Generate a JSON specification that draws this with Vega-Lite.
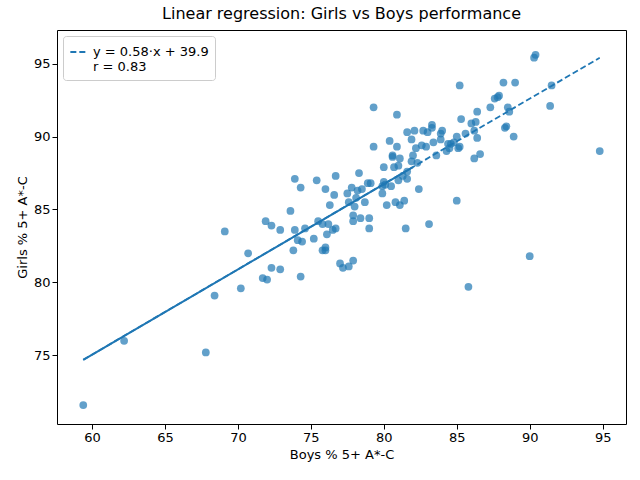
{
  "$schema": "https://vega.github.io/schema/vega-lite/v6.json",
  "width": 569,
  "height": 394,
  "autosize": {"type": "none"},
  "padding": {"left": 57, "top": 30, "right": 14, "bottom": 56},
  "title": {"text": "Linear regression: Girls vs Boys performance", "font": "DejaVu Sans", "fontSize": 16, "fontWeight": "normal", "offset": 8},
  "config": {
    "view": {"stroke": "black", "strokeWidth": 1},
    "axis": {"grid": false, "domain": false, "labelFont": "DejaVu Sans", "titleFont": "DejaVu Sans", "labelFontSize": 13, "titleFontSize": 13, "titleFontWeight": "normal", "tickColor": "black", "labelColor": "black", "titleColor": "black", "tickSize": 5}
  },
  "layer": [
    {
      "data": {"values": [
        {"b":59.4,"g":71.6},{"b":62.2,"g":76.0},{"b":67.8,"g":75.2},{"b":68.4,"g":79.1},{"b":69.1,"g":83.5},{"b":70.2,"g":79.6},{"b":70.7,"g":82.0},{"b":71.7,"g":80.3},{"b":71.9,"g":84.2},{"b":72.0,"g":80.2},{"b":72.3,"g":83.9},{"b":72.3,"g":81.0},{"b":72.9,"g":83.6},{"b":72.9,"g":80.9},{"b":73.6,"g":84.9},{"b":73.8,"g":82.2},{"b":73.9,"g":83.6},{"b":73.9,"g":87.1},{"b":74.1,"g":82.9},{"b":74.3,"g":86.5},{"b":74.3,"g":80.4},{"b":74.4,"g":82.8},{"b":74.6,"g":83.7},{"b":75.2,"g":83.0},{"b":75.4,"g":87.0},{"b":75.5,"g":84.2},{"b":75.8,"g":84.0},{"b":75.8,"g":82.2},{"b":76.0,"g":82.4},{"b":76.0,"g":82.2},{"b":76.0,"g":86.4},{"b":76.1,"g":83.3},{"b":76.2,"g":84.0},{"b":76.3,"g":85.3},{"b":76.5,"g":83.6},{"b":76.6,"g":86.0},{"b":76.7,"g":83.7},{"b":76.7,"g":87.3},{"b":77.0,"g":81.3},{"b":77.2,"g":81.0},{"b":77.5,"g":86.1},{"b":77.6,"g":81.1},{"b":77.6,"g":85.5},{"b":77.9,"g":81.5},{"b":77.8,"g":86.5},{"b":77.9,"g":84.6},{"b":77.9,"g":84.2},{"b":78.0,"g":85.2},{"b":78.1,"g":85.8},{"b":78.2,"g":86.3},{"b":78.3,"g":87.5},{"b":78.4,"g":84.4},{"b":78.5,"g":86.4},{"b":78.7,"g":85.5},{"b":78.9,"g":86.8},{"b":79.0,"g":84.4},{"b":79.0,"g":83.7},{"b":79.1,"g":86.8},{"b":79.3,"g":92.0},{"b":79.3,"g":89.3},{"b":79.9,"g":86.6},{"b":79.9,"g":86.1},{"b":80.0,"g":86.9},{"b":80.0,"g":87.9},{"b":80.1,"g":86.7},{"b":80.2,"g":85.3},{"b":80.4,"g":89.7},{"b":80.5,"g":86.6},{"b":80.6,"g":88.7},{"b":80.7,"g":87.9},{"b":80.8,"g":85.5},{"b":80.9,"g":89.3},{"b":80.9,"g":91.5},{"b":81.0,"g":88.0},{"b":81.0,"g":87.0},{"b":81.1,"g":85.3},{"b":81.1,"g":88.5},{"b":81.3,"g":87.3},{"b":81.4,"g":85.6},{"b":81.5,"g":83.7},{"b":81.6,"g":90.3},{"b":81.6,"g":87.6},{"b":81.6,"g":87.1},{"b":81.9,"g":88.3},{"b":81.9,"g":89.8},{"b":82.0,"g":88.7},{"b":82.1,"g":90.4},{"b":82.2,"g":89.2},{"b":82.3,"g":88.2},{"b":82.4,"g":86.4},{"b":82.6,"g":89.4},{"b":82.7,"g":90.4},{"b":83.0,"g":90.3},{"b":83.1,"g":84.0},{"b":83.3,"g":90.6},{"b":83.3,"g":90.8},{"b":83.4,"g":89.6},{"b":83.6,"g":88.7},{"b":83.9,"g":89.8},{"b":83.9,"g":90.2},{"b":84.0,"g":90.4},{"b":84.3,"g":89.0},{"b":84.4,"g":89.5},{"b":84.6,"g":89.5},{"b":84.8,"g":89.6},{"b":85.0,"g":90.0},{"b":85.0,"g":85.6},{"b":85.1,"g":89.2},{"b":85.2,"g":89.3},{"b":85.2,"g":93.5},{"b":85.3,"g":91.2},{"b":85.6,"g":90.2},{"b":85.8,"g":79.7},{"b":86.0,"g":90.9},{"b":86.2,"g":90.4},{"b":86.2,"g":88.5},{"b":86.3,"g":91.0},{"b":86.4,"g":89.9},{"b":86.4,"g":91.7},{"b":86.6,"g":88.8},{"b":87.3,"g":92.0},{"b":87.6,"g":92.6},{"b":87.8,"g":92.7},{"b":87.9,"g":92.8},{"b":88.2,"g":93.7},{"b":88.3,"g":90.6},{"b":88.4,"g":90.7},{"b":88.5,"g":92.0},{"b":88.6,"g":91.7},{"b":88.9,"g":90.0},{"b":89.0,"g":93.7},{"b":90.0,"g":81.8},{"b":90.3,"g":95.4},{"b":90.4,"g":95.6},{"b":91.4,"g":92.1},{"b":91.5,"g":93.5},{"b":94.8,"g":89.0},{"b":82.9,"g":89.3},{"b":84.5,"g":89.2},{"b":80.6,"g":88.6}
      ]},
      "mark": {"type": "point", "filled": true, "size": 60, "opacity": 0.7, "color": "#1f77b4"},
      "encoding": {
        "x": {"field": "b", "type": "quantitative", "title": "Boys % 5+ A*-C", "scale": {"domain": [57.6, 96.6], "nice": false, "zero": false}, "axis": {"values": [60, 65, 70, 75, 80, 85, 90, 95]}},
        "y": {"field": "g", "type": "quantitative", "title": "Girls % 5+ A*-C", "scale": {"domain": [70.3, 97.3], "nice": false, "zero": false}, "axis": {"values": [75, 80, 85, 90, 95]}}
      }
    },
    {
      "data": {"values": [{"b": 59.4, "g": 74.7}, {"b": 82.0, "g": 87.9}]},
      "mark": {"type": "line", "color": "#1f77b4", "strokeWidth": 2},
      "encoding": {"x": {"field": "b", "type": "quantitative"}, "y": {"field": "g", "type": "quantitative"}}
    },
    {
      "data": {"values": [{"b": 59.4, "g": 74.7, "k": "fit"}, {"b": 94.8, "g": 95.4, "k": "fit"}]},
      "mark": {"type": "line", "strokeWidth": 1.8, "strokeDash": [6, 3]},
      "encoding": {
        "x": {"field": "b", "type": "quantitative"},
        "y": {"field": "g", "type": "quantitative"},
        "color": {"field": "k", "type": "nominal", "scale": {"range": ["#1f77b4"]},
          "legend": {"title": null, "orient": "top-left", "offset": 6, "padding": 6, "strokeColor": "#cccccc", "fillColor": "white", "cornerRadius": 3, "symbolType": "stroke", "symbolDash": [6, 3], "symbolStrokeWidth": 1.8, "symbolSize": 300, "labelFont": "DejaVu Sans", "labelFontSize": 13, "labelLimit": 300, "labelExpr": "['y = 0.58·x + 39.9', 'r = 0.83']"}}
      }
    }
  ]
}
